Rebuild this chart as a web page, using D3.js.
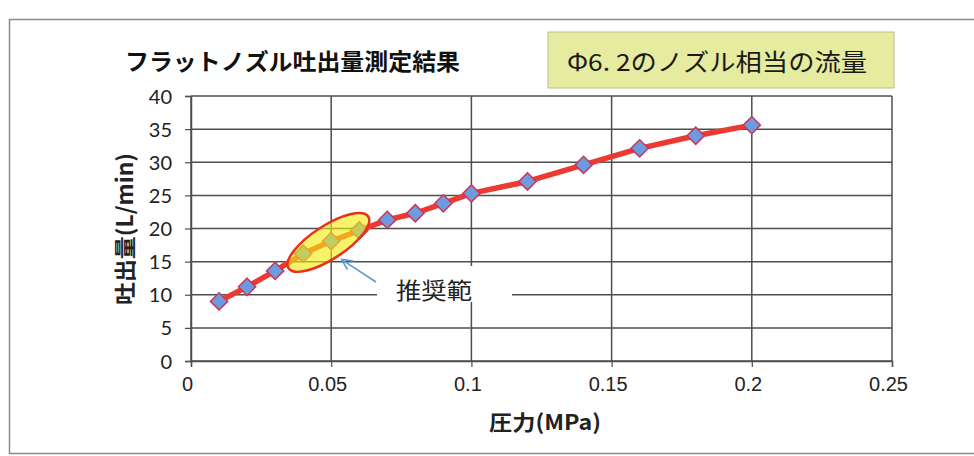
<!DOCTYPE html>
<html><head><meta charset="utf-8">
<script src="https://cdn.jsdelivr.net/npm/d3@7"></script>
<style>
html,body{margin:0;padding:0;background:#fff;}
svg{display:block;}
</style></head>
<body>
<svg id="chart" width="974" height="456"></svg>
<script>
// ---- data ----
const pressure = [0.01,0.02,0.03,0.04,0.05,0.06,0.07,0.08,0.09,0.10,0.12,0.14,0.16,0.18,0.20];
const flow     = [9.0,11.2,13.6,16.2,18.1,19.7,21.3,22.3,23.8,25.3,27.1,29.6,32.1,34.0,35.6];
const xTicks = [0,0.05,0.1,0.15,0.2,0.25];
const xTickLabels = ["0","0.05","0.1","0.15","0.2","0.25"];
const yTicks = [0,5,10,15,20,25,30,35,40];
const titleText = "フラットノズル吐出量測定結果";
const noteText = "Φ6. 2のノズル相当の流量";
const xTitle = "圧力(MPa)";
const yTitle = "吐出量(L/min)";
const recommendLabel = "推奨範";
const recommendCenter = [0.049, 17.9];

const svg = d3.select("#chart");
const x = d3.scaleLinear().domain([0,0.25]).range([191,892]);
const y = d3.scaleLinear().domain([0,40]).range([361,96]);
const cjk = "'Noto Sans CJK JP','Noto Sans',sans-serif";
const gridColor = "#4e4e4e";

// outer frame
svg.append("rect").attr("x",9.5).attr("y",19.5).attr("width",1000).attr("height",434)
  .attr("fill","none").attr("stroke","#8a8a8a").attr("stroke-width",1.5);

// title
svg.append("text").attr("x",125).attr("y",70).text(titleText)
  .attr("font-family",cjk).attr("font-weight","bold").attr("font-size",23)
  .attr("textLength",335).attr("lengthAdjust","spacingAndGlyphs").attr("fill","#111");

// note box
svg.append("rect").attr("x",548).attr("y",32).attr("width",346).attr("height",56)
  .attr("fill","#e5eb9f").attr("stroke","#b9bf8a").attr("stroke-width",1);
svg.append("text").attr("x",567).attr("y",71).text(noteText)
  .attr("font-family",cjk).attr("font-size",24).attr("fill","#1a1a1a")
  .attr("textLength",300).attr("lengthAdjust","spacingAndGlyphs");

// gridlines
const g = svg.append("g");
g.selectAll("line.h").data(yTicks).join("line").attr("class","h")
  .attr("x1",x(0)).attr("x2",x(0.25)).attr("y1",d=>y(d)).attr("y2",d=>y(d))
  .attr("stroke",gridColor).attr("stroke-width",1.5);
g.selectAll("line.v").data(xTicks).join("line").attr("class","v")
  .attr("x1",d=>x(d)).attr("x2",d=>x(d)).attr("y1",y(0)).attr("y2",y(40))
  .attr("stroke",gridColor).attr("stroke-width",1.5);

// axes
const xAxis = d3.axisBottom(x).tickValues(xTicks).tickSize(6).tickFormat((d,i)=>xTickLabels[i]);
const xa = svg.append("g").attr("transform",`translate(0,${y(0)})`).call(xAxis);
xa.select(".domain").attr("stroke",gridColor).attr("stroke-width",1.5);
xa.selectAll(".tick line").attr("stroke",gridColor).attr("stroke-width",1.2);
xa.selectAll(".tick text").attr("font-family","'Liberation Sans',Arial,sans-serif").attr("font-size",20)
  .attr("fill","#222").attr("dy","1.05em").attr("dx",-4);

const yAxis = d3.axisLeft(y).tickValues(yTicks).tickSize(6).tickFormat(d3.format("d"));
const ya = svg.append("g").attr("transform",`translate(${x(0)},0)`).call(yAxis);
ya.select(".domain").attr("stroke",gridColor).attr("stroke-width",1.5);
ya.selectAll(".tick line").attr("stroke",gridColor).attr("stroke-width",1.2);
ya.selectAll(".tick text").attr("font-family","Lato,'Open Sans',sans-serif").attr("font-size",20)
  .attr("fill","#222").attr("x",-19).attr("dy","0.35em");

// axis titles
svg.append("text").attr("x",545).attr("y",430).attr("text-anchor","middle").text(xTitle)
  .attr("font-family",cjk).attr("font-weight","bold").attr("font-size",21).attr("fill","#222")
  .attr("textLength",112).attr("lengthAdjust","spacingAndGlyphs");
svg.append("text").attr("transform",`translate(133,229) rotate(-90)`).attr("text-anchor","middle").text(yTitle)
  .attr("font-family",cjk).attr("font-weight","bold").attr("font-size",22).attr("fill","#222")
  .attr("textLength",152).attr("lengthAdjust","spacingAndGlyphs");

// series
const pts = pressure.map((p,i)=>[p,flow[i]]);
svg.append("path").datum(pts)
  .attr("d",d3.line().x(d=>x(d[0])).y(d=>y(d[1])))
  .attr("fill","none").attr("stroke","#ec3a32").attr("stroke-width",5.5).attr("stroke-linejoin","round");
svg.selectAll("path.mk").data(pts).join("path").attr("class","mk")
  .attr("d",d3.symbol().type(d3.symbolDiamond2).size(190))
  .attr("transform",d=>`translate(${x(d[0])},${y(d[1])})`)
  .attr("fill","#6d9be0").attr("stroke","#c8365a").attr("stroke-width",1.5);

// recommendation ellipse
const cx = x(recommendCenter[0]), cy = y(recommendCenter[1]);
svg.append("ellipse").attr("cx",0).attr("cy",0).attr("rx",47.5).attr("ry",16.6)
  .attr("transform",`translate(${cx},${cy}) rotate(-33)`)
  .attr("fill","#f2ee10").attr("fill-opacity",0.62)
  .attr("stroke","#e8321e").attr("stroke-width",2.5);

// label box + arrow
svg.append("rect").attr("x",377).attr("y",266).attr("width",135).attr("height",36).attr("fill","#fff");
svg.append("text").attr("x",396).attr("y",299).text(recommendLabel)
  .attr("font-family",cjk).attr("font-size",23).attr("fill","#222")
  .attr("textLength",76).attr("lengthAdjust","spacingAndGlyphs");
const tip = [cx+13, cy+17], tail = [376, 282];
svg.append("line").attr("x1",tail[0]).attr("y1",tail[1]).attr("x2",tip[0]).attr("y2",tip[1])
  .attr("stroke","#5b9bd5").attr("stroke-width",1.6);
const ang = Math.atan2(tail[1]-tip[1], tail[0]-tip[0]);
[0.45,-0.45].forEach(o=>{
  svg.append("line").attr("x1",tip[0]).attr("y1",tip[1])
    .attr("x2",tip[0]+12*Math.cos(ang+o)).attr("y2",tip[1]+12*Math.sin(ang+o))
    .attr("stroke","#5b9bd5").attr("stroke-width",1.6);
});
</script>
</body></html>
